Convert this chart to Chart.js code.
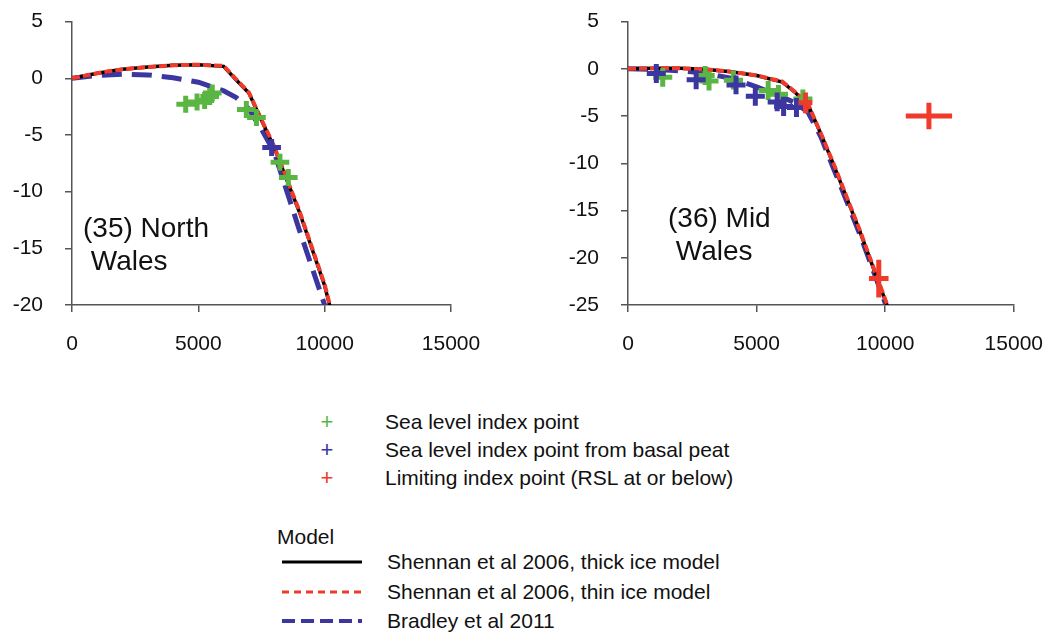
<!DOCTYPE html>
<html lang="en">
<head>
<meta charset="UTF-8">
<title>RSL curves, North and Mid Wales</title>
<script src="https://cdn.jsdelivr.net/npm/chart.js"></script>
<style>
    body {
        margin: 0;
        background: #fff;
        font-family: Arial, 'Liberation Sans', sans-serif;
        color: #111;
        width: 1053px;
        height: 633px;
        position: relative;
        overflow: hidden;
    }
    .panel { position: absolute; top: -13px; height: 383px; }
    #leftBox { left: 0; width: 520px; }
    #rightBox { left: 530px; width: 533px; }

    /* site names inside the plots */
    .site {
        position: absolute;
        font-size: 28px;
        line-height: 33px;
        white-space: nowrap;
    }

    /* legend */
    .row {
        position: absolute;
        font-size: 21px;
        line-height: 28px;
        white-space: nowrap;
    }
    .mark {
        position: absolute;
        font-size: 22px;
        line-height: 28px;
        width: 20px;
        text-align: center;
    }
    .swatch { position: absolute; }
</style>
</head>
<body>

<div class="panel" id="leftBox"><canvas id="leftChart" width="520" height="383"></canvas></div>
<div class="panel" id="rightBox"><canvas id="rightChart" width="533" height="383"></canvas></div>

<div class="site" style="left:83px; top:211px;">(35) North<br>&nbsp;Wales</div>
<div class="site" style="left:668px; top:201px;">(36) Mid<br>&nbsp;Wales</div>

<!-- data point legend -->
<div class="mark" style="left:317px; top:408px; color:#5bb543;">+</div>
<div class="row" style="left:385px; top:408px;">Sea level index point</div>
<div class="mark" style="left:317px; top:436px; color:#3b36a0;">+</div>
<div class="row" style="left:385px; top:436px;">Sea level index point from basal peat</div>
<div class="mark" style="left:317px; top:464px; color:#f03a2a;">+</div>
<div class="row" style="left:385px; top:464px;">Limiting index point (RSL at or below)</div>

<!-- model legend -->
<div class="row" style="left:277px; top:523px;">Model</div>
<svg class="swatch" style="left:280px; top:552px;" width="86" height="80">
    <line x1="2" y1="10" x2="82" y2="10" stroke="#000" stroke-width="3"/>
    <line x1="2" y1="40" x2="82" y2="40" stroke="#f03a2a" stroke-width="3" stroke-dasharray="7 5"/>
    <line x1="2" y1="69" x2="82" y2="69" stroke="#3b36a0" stroke-width="4" stroke-dasharray="13 6"/>
</svg>
<div class="row" style="left:387px; top:548px;">Shennan et al 2006, thick ice model</div>
<div class="row" style="left:387px; top:578px;">Shennan et al 2006, thin ice model</div>
<div class="row" style="left:387px; top:607px;">Bradley et al 2011</div>

<script>
    // ages (cal yr BP) at which the model curves are given
    const modelAges = [0, 1000, 2000, 3000, 4000, 5000, 6000, 6500, 7000, 7500, 8000, 9000, 10000, 11000];

    // (35) North Wales - model RSL (m)
    const northThick   = [0, 0.45, 0.8, 1.0, 1.15, 1.2, 1.05, -0.15, -1.3, -3.7, -6.1, -11.8, -18.3, -27];
    const northThin    = [0, 0.45, 0.8, 1.0, 1.15, 1.2, 1.1, -0.1, -1.25, -3.65, -6.0, -11.7, -18.2, -27];
    const northBradley = [0, 0.25, 0.35, 0.3, 0.05, -0.35, -1.1, -1.7, -2.7, -4.5, -6.5, -13.4, -20.0, -27];

    // (35) North Wales - index points
    const northSliAge  = [4500, 4950, 5250, 5450, 5550, 6900, 7300, 8230, 8560];
    const northSliRsl  = [-2.3, -2.1, -1.95, -1.6, -1.3, -2.75, -3.45, -7.4, -8.75];
    const northSliAgeErr = [370, 370, 370, 370, 370, 370, 370, 370, 370];
    const northSliRslErr = [0.75, 0.75, 0.75, 0.75, 0.75, 0.75, 0.75, 0.75, 0.75];
    const northPeatAge = [7900];
    const northPeatRsl = [-6.1];
    const northPeatAgeErr = [370];
    const northPeatRslErr = [0.75];

    // (36) Mid Wales - model RSL (m)
    const midThick   = [0, 0.05, 0.05, -0.05, -0.3, -0.7, -1.4, -2.5, -3.8, -6.9, -10.2, -17.1, -24.5, -32];
    const midThin    = [0, 0.05, 0.05, -0.05, -0.3, -0.7, -1.35, -2.45, -3.75, -6.85, -10.1, -17.0, -24.4, -32];
    const midBradley = [0, -0.05, -0.2, -0.45, -1.0, -1.9, -3.0, -3.6, -4.6, -7.2, -10.6, -17.4, -24.8, -32];

    // (36) Mid Wales - index points
    const midSliAge  = [1350, 3000, 3150, 4100, 5450, 5850, 6800];
    const midSliRsl  = [-0.9, -0.7, -1.3, -1.2, -2.3, -2.7, -3.2];
    const midSliAgeErr = [370, 370, 370, 370, 370, 370, 370];
    const midSliRslErr = [1.0, 1.0, 1.0, 1.0, 1.0, 1.0, 1.0];
    const midPeatAge = [1100, 2650, 4200, 4950, 5800, 6050, 6550];
    const midPeatRsl = [-0.5, -1.15, -1.7, -2.9, -3.5, -4.0, -4.1];
    const midPeatAgeErr = [370, 370, 370, 370, 370, 370, 370];
    const midPeatRslErr = [1.0, 1.0, 1.0, 1.0, 1.0, 1.0, 1.0];
    const midLimAge  = [6900, 9750, 11700];
    const midLimRsl  = [-3.6, -22.2, -5.0];
    const midLimAgeErr = [270, 380, 900];
    const midLimRslErr = [1.1, 2.0, 1.4];

    // axis ticks
    const xTicks = [0, 5000, 10000, 15000];
    const northYTicks = [5, 0, -5, -10, -15, -20];
    const midYTicks = [5, 0, -5, -10, -15, -20, -25];

    const GREEN = '#5bb543';
    const BLUE = '#3b36a0';
    const RED = '#f03a2a';
    const AXIS = '#555';

    function curve(ages, rsl) {
        return ages.map((a, i) => ({ x: a, y: rsl[i] }));
    }

    // every point is drawn as an error cross: a horizontal and a vertical bar
    function crosses(ages, rsl, ageErr, rslErr) {
        const pts = [];
        ages.forEach((a, i) => {
            pts.push({ x: a - ageErr[i], y: rsl[i] }, { x: a + ageErr[i], y: rsl[i] }, { x: a, y: null });
            pts.push({ x: a, y: rsl[i] - rslErr[i] }, { x: a, y: rsl[i] + rslErr[i] }, { x: a, y: null });
        });
        return pts;
    }

    function modelSets(thick, thin, bradley) {
        return [
            { label: 'Shennan et al 2006, thin ice model', data: curve(modelAges, thin), borderColor: RED, borderWidth: 4, borderDash: [8, 3] },
            { label: 'Shennan et al 2006, thick ice model', data: curve(modelAges, thick), borderColor: '#000', borderWidth: 3.5 },
            { label: 'Bradley et al 2011', data: curve(modelAges, bradley), borderColor: BLUE, borderWidth: 5, borderDash: [20, 10] }
        ];
    }

    function crossSet(label, color, pts) {
        return { label: label, data: pts, borderColor: color, borderWidth: 5, borderCapStyle: 'butt' };
    }

    function makeChart(id, yTicks, axisWidth, padRight, datasets) {
        const yMin = Math.min(...yTicks), yMax = Math.max(...yTicks);
        new Chart(document.getElementById(id), {
            type: 'line',
            data: { datasets: datasets },
            options: {
                responsive: false,
                animation: false,
                events: [],
                spanGaps: false,
                elements: { point: { radius: 0 }, line: { tension: 0, fill: false } },
                layout: { padding: { top: 8, right: padRight, bottom: 0, left: 0 } },
                plugins: { legend: { display: false }, tooltip: { enabled: false } },
                scales: {
                    x: {
                        type: 'linear',
                        min: xTicks[0],
                        max: xTicks[xTicks.length - 1],
                        afterBuildTicks: s => { s.ticks = xTicks.map(v => ({ value: v })); },
                        afterFit: s => { s.height = 65; },
                        grid: { drawOnChartArea: false, color: AXIS, lineWidth: 1.5, tickLength: 7 },
                        border: { color: AXIS, width: 1.5 },
                        ticks: {
                            padding: 20,
                            maxRotation: 0,
                            color: '#111',
                            font: { family: 'Arial, Liberation Sans', size: 21 },
                            callback: v => String(v)
                        }
                    },
                    y: {
                        min: yMin,
                        max: yMax,
                        afterBuildTicks: s => { s.ticks = yTicks.map(v => ({ value: v })); },
                        afterFit: s => { s.width = axisWidth; },
                        grid: { drawOnChartArea: false, color: AXIS, lineWidth: 1.5, tickLength: 7 },
                        border: { color: AXIS, width: 1.5 },
                        ticks: {
                            padding: 22,
                            color: '#111',
                            font: { family: 'Arial, Liberation Sans', size: 21 },
                            callback: v => String(v)
                        }
                    }
                }
            }
        });
    }

    // index 0 is painted last, so the crosses go first
    makeChart('leftChart', northYTicks, 72, 69, [
        crossSet('Sea level index point from basal peat', BLUE, crosses(northPeatAge, northPeatRsl, northPeatAgeErr, northPeatRslErr)),
        crossSet('Sea level index point', GREEN, crosses(northSliAge, northSliRsl, northSliAgeErr, northSliRslErr)),
        ...modelSets(northThick, northThin, northBradley)
    ]);

    makeChart('rightChart', midYTicks, 98, 28, [
        crossSet('Limiting index point (RSL at or below)', RED, crosses(midLimAge, midLimRsl, midLimAgeErr, midLimRslErr)),
        crossSet('Sea level index point from basal peat', BLUE, crosses(midPeatAge, midPeatRsl, midPeatAgeErr, midPeatRslErr)),
        crossSet('Sea level index point', GREEN, crosses(midSliAge, midSliRsl, midSliAgeErr, midSliRslErr)),
        ...modelSets(midThick, midThin, midBradley)
    ]);
</script>

</body>
</html>
